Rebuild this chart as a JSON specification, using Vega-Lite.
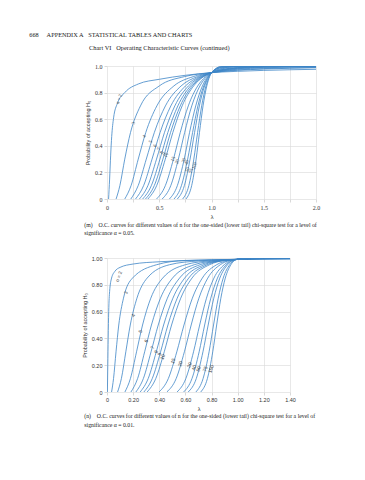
{
"$schema": "https://vega.github.io/schema/vega-lite/v6.json",
"background": "white",
"padding": {"left": 29, "top": 32, "right": 5, "bottom": 5},
"config": {
 "view": {"stroke": null},
 "axis": {"domain": false, "grid": true, "gridColor": "#d9d9d9", "gridWidth": 0.6, "tickColor": "#d9d9d9", "tickSize": 3, "tickCount": 30, "labelFontSize": 6, "labelColor": "#333", "titleFontSize": 5.5, "titleFontWeight": "normal", "titleColor": "#333", "labelPadding": 2, "titlePadding": 4, "labelFont": "Liberation Serif", "titleFont": "Liberation Sans", "labelOverlap": false, "labelFlush": false, "labelBound": false},
 "title": {"fontWeight": "normal", "color": "#222", "font": "Liberation Serif"}
},
"title": {"text": "668\u00a0\u00a0\u00a0\u00a0\u00a0APPENDIX A\u00a0\u00a0\u00a0STATISTICAL TABLES AND CHARTS", "anchor": "start", "fontSize": 6.3, "dx": -53, "offset": 6},
"datasets": {
 "a": [
  {"n":2,"x":0.015,"y":0},{"n":2,"x":0.025,"y":0.15},{"n":2,"x":0.035,"y":0.33},{"n":2,"x":0.045,"y":0.47},{"n":2,"x":0.063,"y":0.61},{"n":2,"x":0.1,"y":0.72},{"n":2,"x":0.17,"y":0.8},{"n":2,"x":0.3,"y":0.865},{"n":2,"x":0.5,"y":0.9},{"n":2,"x":0.75,"y":0.93},{"n":2,"x":1,"y":0.95},{"n":2,"x":1.1,"y":0.955},{"n":2,"x":1.25,"y":0.96},{"n":2,"x":1.5,"y":0.967},{"n":2,"x":2,"y":0.975},
  {"n":3,"x":0.087,"y":0},{"n":3,"x":0.123,"y":0.1},{"n":3,"x":0.17,"y":0.3},{"n":3,"x":0.225,"y":0.5},{"n":3,"x":0.32,"y":0.7},{"n":3,"x":0.5,"y":0.85},{"n":3,"x":0.74,"y":0.92},{"n":3,"x":1,"y":0.95},{"n":3,"x":1.1,"y":0.9585},{"n":3,"x":1.25,"y":0.9677},{"n":3,"x":1.5,"y":0.977},{"n":3,"x":2,"y":0.987},
  {"n":4,"x":0.17,"y":0},{"n":4,"x":0.23,"y":0.1},{"n":4,"x":0.299,"y":0.3},{"n":4,"x":0.371,"y":0.5},{"n":4,"x":0.477,"y":0.7},{"n":4,"x":0.64,"y":0.85},{"n":4,"x":0.825,"y":0.92},{"n":4,"x":1,"y":0.95},{"n":4,"x":1.1,"y":0.9602},{"n":4,"x":1.25,"y":0.9705},{"n":4,"x":1.5,"y":0.9804},{"n":4,"x":2,"y":0.9891},
  {"n":5,"x":0.228,"y":0},{"n":5,"x":0.298,"y":0.1},{"n":5,"x":0.376,"y":0.3},{"n":5,"x":0.453,"y":0.5},{"n":5,"x":0.559,"y":0.7},{"n":5,"x":0.709,"y":0.85},{"n":5,"x":0.865,"y":0.92},{"n":5,"x":1,"y":0.95},{"n":5,"x":1.1,"y":0.9633},{"n":5,"x":1.25,"y":0.9757},{"n":5,"x":1.5,"y":0.9863},{"n":5,"x":2,"y":0.9941},
  {"n":6,"x":0.273,"y":0},{"n":6,"x":0.35,"y":0.1},{"n":6,"x":0.431,"y":0.3},{"n":6,"x":0.508,"y":0.5},{"n":6,"x":0.611,"y":0.7},{"n":6,"x":0.751,"y":0.85},{"n":6,"x":0.887,"y":0.92},{"n":6,"x":1,"y":0.95},{"n":6,"x":1.1,"y":0.9658},{"n":6,"x":1.25,"y":0.9795},{"n":6,"x":1.5,"y":0.99},{"n":6,"x":2,"y":0.9967},
  {"n":7,"x":0.31,"y":0},{"n":7,"x":0.391,"y":0.1},{"n":7,"x":0.474,"y":0.3},{"n":7,"x":0.55,"y":0.5},{"n":7,"x":0.649,"y":0.7},{"n":7,"x":0.779,"y":0.85},{"n":7,"x":0.902,"y":0.92},{"n":7,"x":1,"y":0.95},{"n":7,"x":1.1,"y":0.968},{"n":7,"x":1.25,"y":0.9825},{"n":7,"x":1.5,"y":0.9927},{"n":7,"x":2,"y":0.998},
  {"n":8,"x":0.341,"y":0},{"n":8,"x":0.424,"y":0.1},{"n":8,"x":0.507,"y":0.3},{"n":8,"x":0.582,"y":0.5},{"n":8,"x":0.678,"y":0.7},{"n":8,"x":0.8,"y":0.85},{"n":8,"x":0.912,"y":0.92},{"n":8,"x":1,"y":0.95},{"n":8,"x":1.1,"y":0.9698},{"n":8,"x":1.25,"y":0.985},{"n":8,"x":1.5,"y":0.9945},{"n":8,"x":2,"y":0.999},
  {"n":9,"x":0.368,"y":0},{"n":9,"x":0.452,"y":0.1},{"n":9,"x":0.535,"y":0.3},{"n":9,"x":0.608,"y":0.5},{"n":9,"x":0.701,"y":0.7},{"n":9,"x":0.816,"y":0.85},{"n":9,"x":0.92,"y":0.92},{"n":9,"x":1,"y":0.95},{"n":9,"x":1.1,"y":0.9715},{"n":9,"x":1.25,"y":0.9875},{"n":9,"x":1.5,"y":0.9958},{"n":9,"x":2,"y":0.9995},
  {"n":10,"x":0.391,"y":0},{"n":10,"x":0.475,"y":0.1},{"n":10,"x":0.558,"y":0.3},{"n":10,"x":0.63,"y":0.5},{"n":10,"x":0.719,"y":0.7},{"n":10,"x":0.829,"y":0.85},{"n":10,"x":0.926,"y":0.92},{"n":10,"x":1,"y":0.95},{"n":10,"x":1.1,"y":0.973},{"n":10,"x":1.25,"y":0.9886},{"n":10,"x":1.5,"y":0.9968},{"n":10,"x":2,"y":0.9997},
  {"n":15,"x":0.474,"y":0},{"n":15,"x":0.558,"y":0.1},{"n":15,"x":0.636,"y":0.3},{"n":15,"x":0.701,"y":0.5},{"n":15,"x":0.778,"y":0.7},{"n":15,"x":0.868,"y":0.85},{"n":15,"x":0.944,"y":0.92},{"n":15,"x":1,"y":0.95},{"n":15,"x":1.1,"y":0.9785},{"n":15,"x":1.25,"y":0.9937},{"n":15,"x":1.5,"y":0.999},{"n":15,"x":2,"y":1},
  {"n":20,"x":0.528,"y":0},{"n":20,"x":0.61,"y":0.1},{"n":20,"x":0.683,"y":0.3},{"n":20,"x":0.743,"y":0.5},{"n":20,"x":0.811,"y":0.7},{"n":20,"x":0.889,"y":0.85},{"n":20,"x":0.954,"y":0.92},{"n":20,"x":1,"y":0.95},{"n":20,"x":1.1,"y":0.9824},{"n":20,"x":1.25,"y":0.9963},{"n":20,"x":1.5,"y":0.9995},{"n":20,"x":2,"y":1},
  {"n":30,"x":0.597,"y":0},{"n":30,"x":0.673,"y":0.1},{"n":30,"x":0.739,"y":0.3},{"n":30,"x":0.79,"y":0.5},{"n":30,"x":0.849,"y":0.7},{"n":30,"x":0.913,"y":0.85},{"n":30,"x":0.964,"y":0.92},{"n":30,"x":1,"y":0.95},{"n":30,"x":1.1,"y":0.9875},{"n":30,"x":1.25,"y":0.998},{"n":30,"x":1.5,"y":0.9999},{"n":30,"x":2,"y":1},
  {"n":40,"x":0.641,"y":0},{"n":40,"x":0.712,"y":0.1},{"n":40,"x":0.772,"y":0.3},{"n":40,"x":0.819,"y":0.5},{"n":40,"x":0.87,"y":0.7},{"n":40,"x":0.926,"y":0.85},{"n":40,"x":0.97,"y":0.92},{"n":40,"x":1,"y":0.95},{"n":40,"x":1.1,"y":0.9907},{"n":40,"x":1.25,"y":0.999},{"n":40,"x":1.5,"y":1},{"n":40,"x":2,"y":1},
  {"n":50,"x":0.673,"y":0},{"n":50,"x":0.74,"y":0.1},{"n":50,"x":0.795,"y":0.3},{"n":50,"x":0.838,"y":0.5},{"n":50,"x":0.884,"y":0.7},{"n":50,"x":0.934,"y":0.85},{"n":50,"x":0.973,"y":0.92},{"n":50,"x":1,"y":0.95},{"n":50,"x":1.1,"y":0.9929},{"n":50,"x":1.25,"y":0.9995},{"n":50,"x":1.5,"y":1},{"n":50,"x":2,"y":1},
  {"n":75,"x":0.724,"y":0},{"n":75,"x":0.783,"y":0.1},{"n":75,"x":0.831,"y":0.3},{"n":75,"x":0.867,"y":0.5},{"n":75,"x":0.906,"y":0.7},{"n":75,"x":0.947,"y":0.85},{"n":75,"x":0.979,"y":0.92},{"n":75,"x":1,"y":0.95},{"n":75,"x":1.1,"y":0.9961},{"n":75,"x":1.25,"y":1},{"n":75,"x":2,"y":1},
  {"n":100,"x":0.756,"y":0},{"n":100,"x":0.81,"y":0.1},{"n":100,"x":0.853,"y":0.3},{"n":100,"x":0.885,"y":0.5},{"n":100,"x":0.919,"y":0.7},{"n":100,"x":0.955,"y":0.85},{"n":100,"x":0.982,"y":0.92},{"n":100,"x":1,"y":0.95},{"n":100,"x":1.1,"y":0.9977},{"n":100,"x":1.25,"y":1},{"n":100,"x":2,"y":1}
 ],
 "b": [
  {"n":2,"x":0.003,"y":0},{"n":2,"x":0.006,"y":0.2},{"n":2,"x":0.009,"y":0.4},{"n":2,"x":0.013,"y":0.6},{"n":2,"x":0.02,"y":0.75},{"n":2,"x":0.035,"y":0.85},{"n":2,"x":0.06,"y":0.9},{"n":2,"x":0.1,"y":0.93},{"n":2,"x":0.2,"y":0.955},{"n":2,"x":0.4,"y":0.972},{"n":2,"x":0.7,"y":0.983},{"n":2,"x":1,"y":0.99},{"n":2,"x":1.2,"y":0.992},{"n":2,"x":1.4,"y":0.993},
  {"n":3,"x":0.035,"y":0},{"n":3,"x":0.05,"y":0.1},{"n":3,"x":0.069,"y":0.3},{"n":3,"x":0.09,"y":0.5},{"n":3,"x":0.126,"y":0.7},{"n":3,"x":0.195,"y":0.85},{"n":3,"x":0.38,"y":0.95},{"n":3,"x":0.6,"y":0.982},{"n":3,"x":1,"y":0.99},{"n":3,"x":1.2,"y":0.993},{"n":3,"x":1.4,"y":0.995},
  {"n":4,"x":0.081,"y":0},{"n":4,"x":0.11,"y":0.1},{"n":4,"x":0.144,"y":0.3},{"n":4,"x":0.178,"y":0.5},{"n":4,"x":0.229,"y":0.7},{"n":4,"x":0.307,"y":0.85},{"n":4,"x":0.479,"y":0.95},{"n":4,"x":0.7,"y":0.978},{"n":4,"x":1,"y":0.99},{"n":4,"x":1.2,"y":0.9928},{"n":4,"x":1.4,"y":0.9945},
  {"n":5,"x":0.137,"y":0},{"n":5,"x":0.179,"y":0.1},{"n":5,"x":0.226,"y":0.3},{"n":5,"x":0.272,"y":0.5},{"n":5,"x":0.335,"y":0.7},{"n":5,"x":0.426,"y":0.85},{"n":5,"x":0.6,"y":0.95},{"n":5,"x":0.8,"y":0.98},{"n":5,"x":1,"y":0.99},{"n":5,"x":1.2,"y":0.995},{"n":5,"x":1.4,"y":0.997},
  {"n":6,"x":0.183,"y":0},{"n":6,"x":0.234,"y":0.1},{"n":6,"x":0.288,"y":0.3},{"n":6,"x":0.34,"y":0.5},{"n":6,"x":0.409,"y":0.7},{"n":6,"x":0.501,"y":0.85},{"n":6,"x":0.668,"y":0.95},{"n":6,"x":0.85,"y":0.981},{"n":6,"x":1,"y":0.99},{"n":6,"x":1.2,"y":0.996},{"n":6,"x":1.4,"y":0.998},
  {"n":7,"x":0.221,"y":0},{"n":7,"x":0.278,"y":0.1},{"n":7,"x":0.337,"y":0.3},{"n":7,"x":0.392,"y":0.5},{"n":7,"x":0.462,"y":0.7},{"n":7,"x":0.555,"y":0.85},{"n":7,"x":0.712,"y":0.95},{"n":7,"x":0.87,"y":0.98},{"n":7,"x":1,"y":0.99},{"n":7,"x":1.2,"y":0.997},{"n":7,"x":1.4,"y":0.999},
  {"n":8,"x":0.254,"y":0},{"n":8,"x":0.315,"y":0.1},{"n":8,"x":0.377,"y":0.3},{"n":8,"x":0.433,"y":0.5},{"n":8,"x":0.504,"y":0.7},{"n":8,"x":0.594,"y":0.85},{"n":8,"x":0.743,"y":0.95},{"n":8,"x":0.88,"y":0.981},{"n":8,"x":1,"y":0.99},{"n":8,"x":1.2,"y":0.998},{"n":8,"x":1.4,"y":0.999},
  {"n":9,"x":0.282,"y":0},{"n":9,"x":0.346,"y":0.1},{"n":9,"x":0.41,"y":0.3},{"n":9,"x":0.466,"y":0.5},{"n":9,"x":0.537,"y":0.7},{"n":9,"x":0.625,"y":0.85},{"n":9,"x":0.766,"y":0.95},{"n":9,"x":0.89,"y":0.981},{"n":9,"x":1,"y":0.99},{"n":9,"x":1.2,"y":0.998},{"n":9,"x":1.4,"y":1},
  {"n":10,"x":0.307,"y":0},{"n":10,"x":0.373,"y":0.1},{"n":10,"x":0.438,"y":0.3},{"n":10,"x":0.494,"y":0.5},{"n":10,"x":0.564,"y":0.7},{"n":10,"x":0.65,"y":0.85},{"n":10,"x":0.785,"y":0.95},{"n":10,"x":0.9,"y":0.982},{"n":10,"x":1,"y":0.99},{"n":10,"x":1.2,"y":0.9985},{"n":10,"x":1.4,"y":1},
  {"n":15,"x":0.398,"y":0},{"n":15,"x":0.469,"y":0.1},{"n":15,"x":0.534,"y":0.3},{"n":15,"x":0.589,"y":0.5},{"n":15,"x":0.653,"y":0.7},{"n":15,"x":0.729,"y":0.85},{"n":15,"x":0.839,"y":0.95},{"n":15,"x":0.92,"y":0.98},{"n":15,"x":1,"y":0.99},{"n":15,"x":1.2,"y":0.9995},{"n":15,"x":1.4,"y":1},
  {"n":20,"x":0.458,"y":0},{"n":20,"x":0.529,"y":0.1},{"n":20,"x":0.592,"y":0.3},{"n":20,"x":0.644,"y":0.5},{"n":20,"x":0.703,"y":0.7},{"n":20,"x":0.771,"y":0.85},{"n":20,"x":0.867,"y":0.95},{"n":20,"x":0.935,"y":0.981},{"n":20,"x":1,"y":0.99},{"n":20,"x":1.2,"y":1},{"n":20,"x":1.4,"y":1},
  {"n":30,"x":0.536,"y":0},{"n":30,"x":0.603,"y":0.1},{"n":30,"x":0.662,"y":0.3},{"n":30,"x":0.709,"y":0.5},{"n":30,"x":0.761,"y":0.7},{"n":30,"x":0.818,"y":0.85},{"n":30,"x":0.897,"y":0.95},{"n":30,"x":0.95,"y":0.981},{"n":30,"x":1,"y":0.99},{"n":30,"x":1.2,"y":1},{"n":30,"x":1.4,"y":1},
  {"n":40,"x":0.586,"y":0},{"n":40,"x":0.65,"y":0.1},{"n":40,"x":0.705,"y":0.3},{"n":40,"x":0.747,"y":0.5},{"n":40,"x":0.794,"y":0.7},{"n":40,"x":0.845,"y":0.85},{"n":40,"x":0.913,"y":0.95},{"n":40,"x":0.96,"y":0.982},{"n":40,"x":1,"y":0.99},{"n":40,"x":1.2,"y":1},{"n":40,"x":1.4,"y":1},
  {"n":50,"x":0.621,"y":0},{"n":50,"x":0.683,"y":0.1},{"n":50,"x":0.734,"y":0.3},{"n":50,"x":0.774,"y":0.5},{"n":50,"x":0.817,"y":0.7},{"n":50,"x":0.863,"y":0.85},{"n":50,"x":0.923,"y":0.95},{"n":50,"x":0.965,"y":0.982},{"n":50,"x":1,"y":0.99},{"n":50,"x":1.2,"y":1},{"n":50,"x":1.4,"y":1},
  {"n":75,"x":0.68,"y":0},{"n":75,"x":0.735,"y":0.1},{"n":75,"x":0.781,"y":0.3},{"n":75,"x":0.815,"y":0.5},{"n":75,"x":0.851,"y":0.7},{"n":75,"x":0.889,"y":0.85},{"n":75,"x":0.939,"y":0.95},{"n":75,"x":0.972,"y":0.982},{"n":75,"x":1,"y":0.99},{"n":75,"x":1.2,"y":1},{"n":75,"x":1.4,"y":1},
  {"n":100,"x":0.717,"y":0},{"n":100,"x":0.768,"y":0.1},{"n":100,"x":0.809,"y":0.3},{"n":100,"x":0.839,"y":0.5},{"n":100,"x":0.871,"y":0.7},{"n":100,"x":0.905,"y":0.85},{"n":100,"x":0.948,"y":0.95},{"n":100,"x":0.976,"y":0.982},{"n":100,"x":1,"y":0.99},{"n":100,"x":1.2,"y":1},{"n":100,"x":1.4,"y":1}
 ],
 "la": [
  {"t":"n = 2","x":0.12,"y":0.75},{"t":"3","x":0.255,"y":0.57},{"t":"4","x":0.36,"y":0.47},{"t":"5","x":0.42,"y":0.43},{"t":"6","x":0.465,"y":0.4},{"t":"7","x":0.5,"y":0.375},{"t":"8","x":0.526,"y":0.35},{"t":"9","x":0.55,"y":0.34},{"t":"10","x":0.569,"y":0.33},{"t":"15","x":0.636,"y":0.3},{"t":"20","x":0.676,"y":0.28},{"t":"30","x":0.737,"y":0.29},{"t":"40","x":0.768,"y":0.275},{"t":"50","x":0.773,"y":0.22},{"t":"75","x":0.81,"y":0.21},{"t":"100","x":0.842,"y":0.25}
 ],
 "lb": [
  {"t":"n = 2","x":0.095,"y":0.86},{"t":"3","x":0.149,"y":0.74},{"t":"4","x":0.205,"y":0.57},{"t":"5","x":0.26,"y":0.45},{"t":"6","x":0.305,"y":0.38},{"t":"7","x":0.352,"y":0.33},{"t":"8","x":0.38,"y":0.3},{"t":"9","x":0.405,"y":0.28},{"t":"10","x":0.43,"y":0.26},{"t":"15","x":0.51,"y":0.23},{"t":"20","x":0.565,"y":0.21},{"t":"30","x":0.635,"y":0.2},{"t":"40","x":0.67,"y":0.18},{"t":"50","x":0.705,"y":0.17},{"t":"75","x":0.756,"y":0.17},{"t":"100","x":0.8,"y":0.17}
 ]
},
"spacing": 1,
"vconcat": [
 {
  "width": 209, "height": 133,
  "title": {"text": "Chart VI\u00a0\u00a0\u00a0Operating Characteristic Curves (continued)", "anchor": "start", "frame": "group", "dx": -18, "fontSize": 6.4, "offset": 12},
  "layer": [
   {"data": {"name": "a"},
    "mark": {"type": "line", "interpolate": "monotone", "strokeWidth": 0.8, "color": "#3d85c6", "clip": true},
    "encoding": {
     "x": {"field": "x", "type": "quantitative", "scale": {"domain": [0, 2], "nice": false},
           "axis": {"title": "λ", "tickCount": 30, "labelOverlap": false, "values": [0,0.25,0.5,0.75,1,1.25,1.5,1.75,2], "labelExpr": "datum.value % 0.5 == 0 ? (datum.value == 0 ? '0' : format(datum.value, '.1f')) : ''"}},
     "y": {"field": "y", "type": "quantitative", "scale": {"domain": [0, 1], "nice": false},
           "axis": {"title": "Probability of accepting H₀", "tickCount": 30, "labelOverlap": false, "values": [0,0.2,0.4,0.6,0.8,1], "labelExpr": "datum.value == 0 ? '0' : format(datum.value, '.1f')"}},
     "detail": {"field": "n", "type": "nominal"}
    }},
   {"data": {"name": "la"},
    "mark": {"type": "text", "angle": 290, "fontSize": 4.8, "color": "#444", "font": "Liberation Serif"},
    "encoding": {"x": {"field": "x", "type": "quantitative"}, "y": {"field": "y", "type": "quantitative"}, "text": {"field": "t"}}}
  ]
 },
 {
  "title": {"text": ["(m)\u00a0\u00a0\u00a0\u00a0O.C. curves for different values of n for the one-sided (lower tail) chi-square test for a level of", "significance α = 0.05."], "anchor": "start", "fontSize": 5.8, "lineHeight": 8.5, "offset": 20, "dx": 2},
  "vconcat": [
   {
    "width": 183, "height": 134,
    "title": {"text": ["(n)\u00a0\u00a0\u00a0\u00a0O.C. curves for different values of n for the one-sided (lower tail) chi-square test for a level of", "significance α = 0.01."], "orient": "bottom", "anchor": "start", "frame": "bounds", "fontSize": 5.8, "lineHeight": 8.5, "offset": 1, "dx": 2},
    "layer": [
     {"data": {"name": "b"},
      "mark": {"type": "line", "interpolate": "monotone", "strokeWidth": 0.8, "color": "#3d85c6", "clip": true},
      "encoding": {
       "x": {"field": "x", "type": "quantitative", "scale": {"domain": [0, 1.4], "nice": false},
             "axis": {"title": "λ", "tickCount": 30, "labelOverlap": false, "values": [0,0.2,0.4,0.6,0.8,1,1.2,1.4], "labelFont": "Liberation Sans", "labelFontSize": 5.5, "labelExpr": "datum.value == 0 ? '0' : format(datum.value, '.2f')"}},
       "y": {"field": "y", "type": "quantitative", "scale": {"domain": [0, 1], "nice": false},
             "axis": {"title": "Probability of accepting H₀", "tickCount": 30, "labelOverlap": false, "values": [0,0.2,0.4,0.6,0.8,1], "labelFont": "Liberation Sans", "labelFontSize": 5.5, "labelExpr": "datum.value == 0 ? '0' : format(datum.value, '.2f')"}},
       "detail": {"field": "n", "type": "nominal"}
      }},
     {"data": {"name": "lb"},
      "mark": {"type": "text", "angle": 290, "fontSize": 4.8, "color": "#444", "font": "Liberation Sans"},
      "encoding": {"x": {"field": "x", "type": "quantitative"}, "y": {"field": "y", "type": "quantitative"}, "text": {"field": "t"}}}
    ]
   }
  ]
 }
]
}
